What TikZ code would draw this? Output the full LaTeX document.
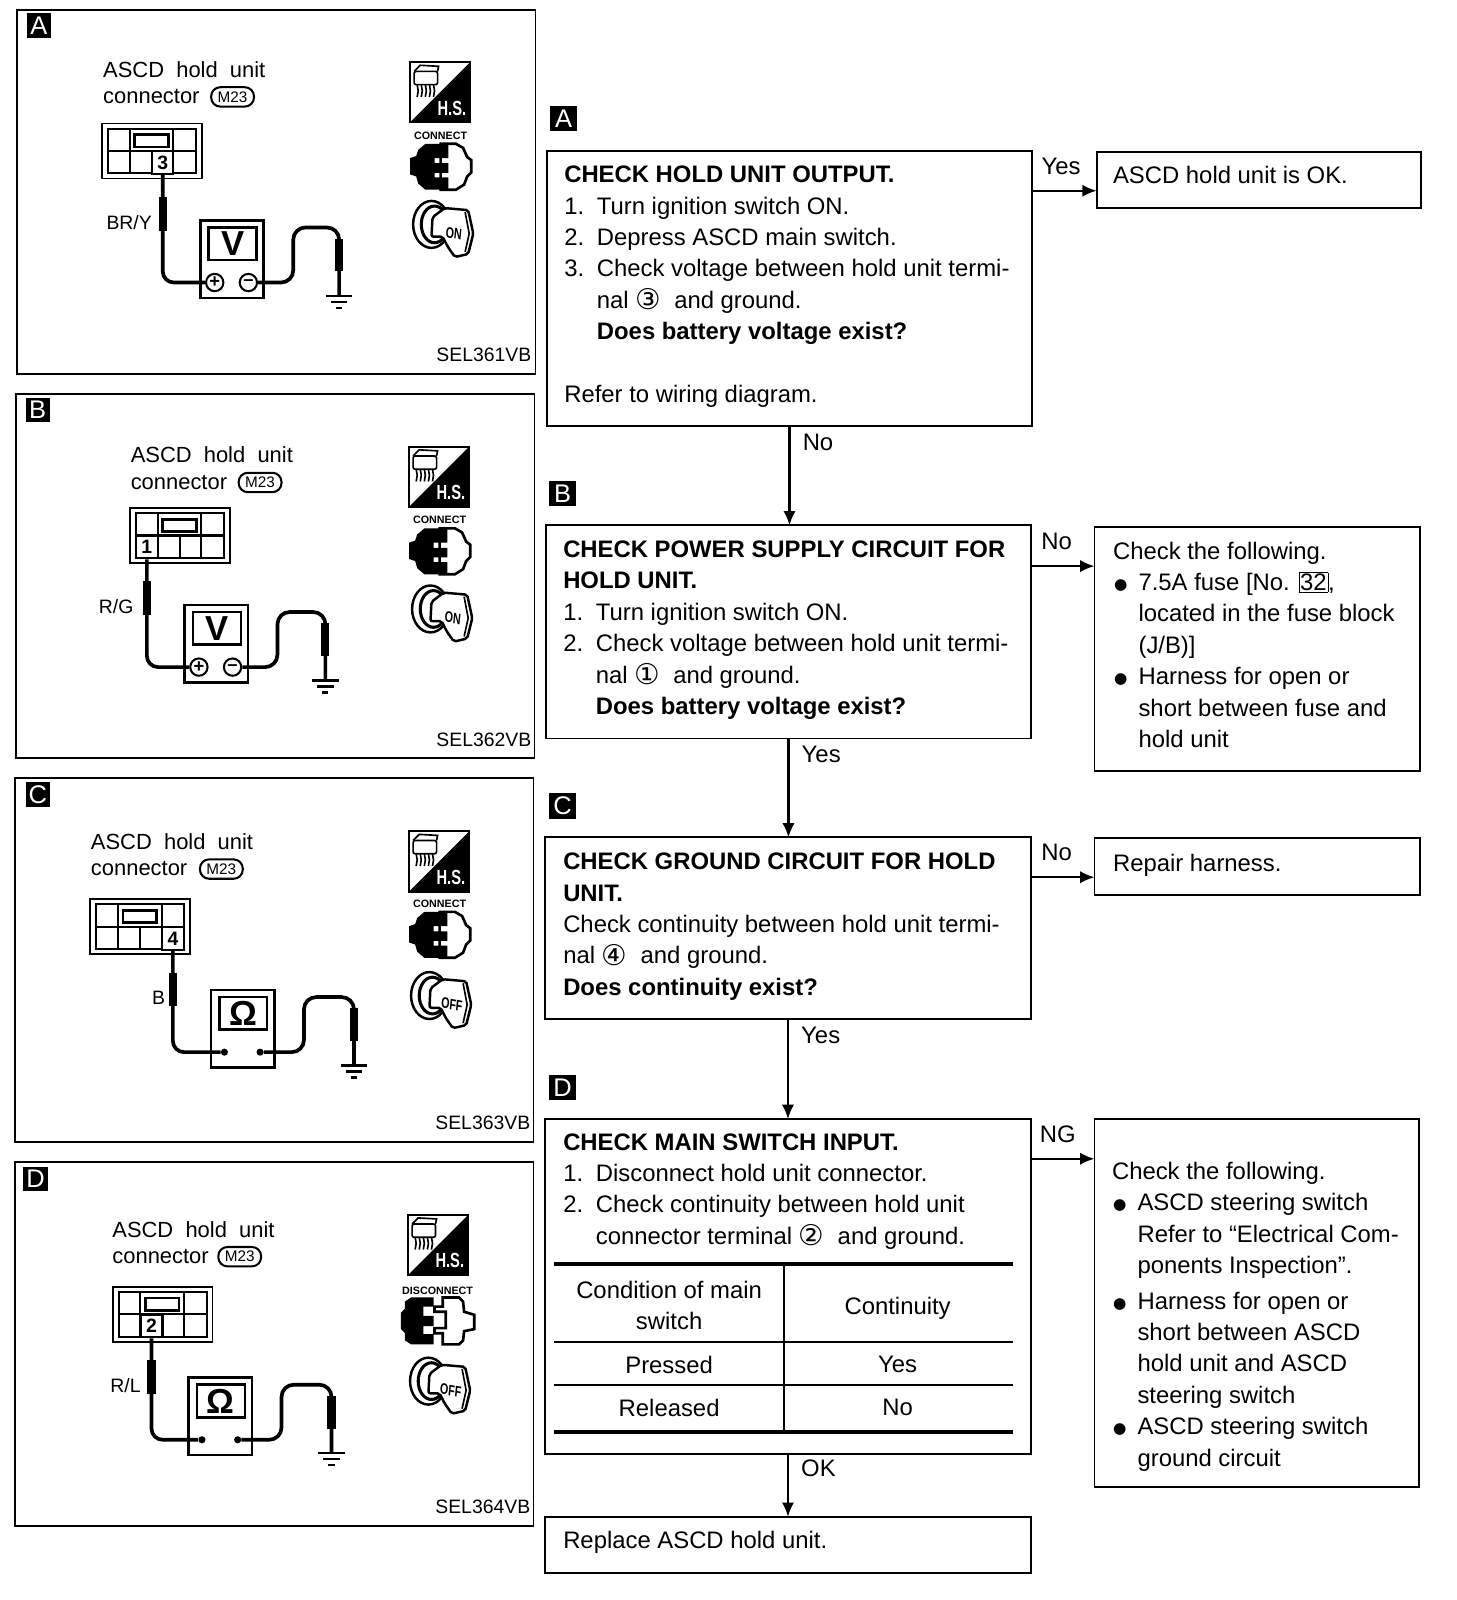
\documentclass[tikz,border=0pt]{standalone}
\usepackage{fontspec}
\setmainfont{Liberation Sans}
\newfontfamily\dejavu{DejaVu Sans}
\usetikzlibrary{arrows.meta, calc}
\tikzset{
  flowbox/.style={draw, line width=1.9pt, anchor=north west, inner sep=0pt, outer sep=0pt},
  panel/.style={flowbox, minimum width=508pt, minimum height=357pt},
  flowtext/.style={anchor=north west, inner sep=0pt, align=left, font=\fontsize{23.4}{30.8}\selectfont},
  flowlabel/.style={inner sep=0pt, font=\fontsize{23.4}{28}\selectfont},
  flow/.style={line width=2pt, -{Latex[length=14pt,width=12pt]}},
  badge/.style={fill=black, text=white, inner sep=0pt, minimum size=25pt, font=\fontsize{25}{25}\selectfont},
  unittext/.style={anchor=north west, inner sep=0pt, align=left, font=\fontsize{21.5}{26}\selectfont},
  codetext/.style={inner sep=0pt, font=\fontsize{19}{22}\selectfont},
  pill/.style={draw, line width=2pt, rounded corners=9pt, minimum width=42pt, minimum height=19pt, inner sep=0pt, font=\fontsize{15}{15}\selectfont},
  termcell/.style={draw, fill=white, line width=2pt, minimum width=21pt, minimum height=22pt, inner sep=0pt, font=\bfseries\fontsize{19}{19}\selectfont},
  wire/.style={line width=3.6pt},
  probe/.style={line width=8pt},
  thickrule/.style={line width=4pt},
  thinrule/.style={line width=2pt},
  cellpic/.style={line width=2pt},
  meterbox/.style={flowbox, line width=2.4pt},
  hsicon/.pic={
    \draw [line width=2pt] (0,0) rectangle (59,59);
    \fill (59,0)--(59,59)--(0,59)--cycle;
    \draw [line width=1.6pt, rounded corners=2pt] (4,9) rectangle (27,22);
    \draw [line width=1.6pt] (4,9)--(10,3)--(28,4)--(27,9);
    \foreach \wx in {7,11,15,19,23} \draw [line width=1.6pt] (\wx,22)--(\wx+1,28)--(\wx,34);
    \node (-txt) [text=white, inner sep=0pt, font=\bfseries\fontsize{20}{20}\selectfont, xscale=.72] at (41,45) {H.S.};
  },
  plugicon/.pic={
    \draw [line width=2.6pt, fill=white] (0,-22)--(15,-22)--(22,-18)--(26,-9)--(30,-6)--(30,6)--(26,10)--(23,18)--(15,23)--(0,23)--cycle;
    \fill (-30,-8)--(-24,-10)--(-22,-16)--(-15,-22)--(7.5,-22)--(7.5,-8)--(-6,-8)--(-6,-3)--(7.5,-3)--(7.5,6.5)--(-6,6.5)--(-6,11)--(7.5,11)--(7.5,23)--(-15,23)--(-22,17)--(-24,10)--(-30,8)--cycle;
  },
  unplugicon/.pic={
    \fill (-36,-8)--(-32,-12)--(-32,-19)--(-26,-23)--(-4,-23)--(-4,-14)--(-14,-14)--(-14,-5)--(-4,-5)--(-4,5)--(-14,5)--(-14,13)--(-4,13)--(-4,23)--(-26,23)--(-32,19)--(-32,12)--(-36,8)--cycle;
    \draw [line width=2.6pt, fill=white] (5,-23)--(21,-23)--(25,-19)--(26,-9)--(36,-6)--(36,8)--(26,10)--(25,19)--(21,23)--(5,23)--(5,12)--(-3,12)--(-3,7)--(8,7)--(8,-9)--(-3,-9)--(-3,-14)--(5,-14)--cycle;
  },
  pics/keyicon/.style={code={
    \draw [line width=2.4pt] (-11,-4) ellipse (18pt and 23pt);
    \draw [line width=3pt] (-8,-4) ellipse (13pt and 18pt);
    \draw [line width=2.4pt, fill=white, rounded corners=2pt] (-10,-11)--(2,-20)--(25,-18)--(30,5)--(25,25)--(12,28)--(5,18)--(0,8)--(-11,8)--cycle;
    \draw [line width=1.6pt] (22,-16)--(26,5)--(22,23);
    \node (-txt) [inner sep=0pt, font=\bfseries\fontsize{15}{15}\selectfont, xscale=.7, rotate=-8] at (11,5) {#1};
  }},
}
\newcommand{\numitem}[2]{\makebox[32pt][l]{#1}#2}
\newcommand{\cont}{\hspace*{32pt}}
\newcommand{\bitem}[1]{\makebox[25pt][l]{\hspace{1pt}\raisebox{1pt}{\fontsize{15}{15}\dejavu ●}}#1}
\newcommand{\bcont}{\hspace*{25pt}}
\newcommand{\cnum}[1]{{\fontsize{28}{28}\dejavu\raisebox{-1.5pt}{#1}}}
% name, connector x y, terminal, meter x y, ground offset, meter symbol
\newcommand{\probeunit}[8]{
  \begin{scope}[shift={(#2,#3)}]
    \node (conn#1) [draw, line width=1.6pt, anchor=north west, minimum width=98pt, minimum height=54pt, inner sep=0pt, outer sep=0pt] at (0,0) {};
    \draw [cellpic] (6,5) rectangle (92,49);
    \draw [cellpic] (6,27)--(92,27) (27,5)--(27,49) (70,5)--(70,49) (49,27)--(49,49);
    \draw [line width=2.6pt, fill=white] (32,11) rectangle (65,23);
    \node (term#1) [termcell] at ({16.5+21.5*(#4-1)},38.5) {#4};
  \end{scope}
  \node (meter#1) [meterbox, minimum width=62pt, minimum height=76pt] at (#5,#6) {};
  \node (disp#1) [meterbox, minimum width=47pt, minimum height=32pt, font=\bfseries\fontsize{34}{34}\selectfont] at ($(#5,#6)+(8,7)$) {#8};
  \ifx V#8
    \node (plus#1) [circle, draw, line width=2pt, minimum size=17pt, inner sep=0pt, font=\bfseries\fontsize{18}{18}\selectfont] at ($(#5,#6)+(14,61)$) {+};
    \node (minus#1) [circle, draw, line width=2pt, minimum size=17pt, inner sep=0pt, font=\bfseries\fontsize{18}{18}\selectfont] at ($(#5,#6)+(47,61)$) {--};
  \else
    \node (plus#1) [circle, fill, minimum size=7pt, inner sep=0pt] at ($(#5,#6)+(13,61)$) {};
    \node (minus#1) [circle, fill, minimum size=7pt, inner sep=0pt] at ($(#5,#6)+(48,61)$) {};
  \fi
  \coordinate (bend#1) at ($(#5,#6)+(91,7)$);
  \coordinate (gnd#1) at ($(#5,#6)+(#7,74)$);
  \draw [wire, rounded corners=11pt] (term#1.south) |- (plus#1.west);
  \draw [wire, rounded corners=12pt] (minus#1.east) -| (bend#1) -| (gnd#1);
  \draw [probe] (term#1.south |- 0,#3+72) -- (term#1.south |- 0,#3+105);
  \draw [probe] ($(gnd#1)+(0,-56)$) -- ($(gnd#1)+(0,-24)$);
  \draw [line width=2.4pt] ($(gnd#1)+(-13,0)$) -- ++(26,0);
  \draw [line width=2.4pt] ($(gnd#1)+(-8,6)$) -- ++(16,0);
  \draw [line width=2.4pt] ($(gnd#1)+(-3,12)$) -- ++(6,0);
}
\begin{document}
\begin{tikzpicture}[x=1pt, y=-1pt]
  \useasboundingbox (0,0) rectangle (1427.5,1568.6);

  \node (panelA) [panel] at (17,10) {};
  \node (panelB) [panel] at (16,386.5) {};
  \node (panelC) [panel] at (15,763) {};
  \node (panelD) [panel] at (15,1139) {};
  \node (tagA) [badge, minimum size=24pt] at (38,25) {A};
  \node (tagB) [badge, minimum size=24pt] at (37,402) {B};
  \node (tagC) [badge, minimum size=24pt] at (37,779) {C};
  \node (tagD) [badge, minimum size=24pt] at (35,1156) {D};

  \node (unitA) [unittext] at (101,60) {ASCD\ \ hold\ \ unit\\connector};
  \node (plugA) [pill] at (228,95) {M23};
  \node (unitB) [unittext] at (128,438) {ASCD\ \ hold\ \ unit\\connector};
  \node (plugB) [pill] at (255,473) {M23};
  \node (unitC) [unittext] at (89,817) {ASCD\ \ hold\ \ unit\\connector};
  \node (plugC) [pill] at (217,852) {M23};
  \node (unitD) [unittext] at (110,1197) {ASCD\ \ hold\ \ unit\\connector};
  \node (plugD) [pill] at (235,1232) {M23};

  \probeunit{A}{100}{121}{3}{196.5}{216}{136}{V}
  \probeunit{B}{127.5}{498}{1}{181}{593}{138}{V}
  \probeunit{C}{88.5}{881.5}{4}{207}{970.5}{140}{Ω}
  \probeunit{D}{110.5}{1261.5}{2}{185}{1350.5}{140}{Ω}

  \node (wireA) [codetext, anchor=east] at (149,218) {BR/Y};
  \node (wireB) [codetext, anchor=east] at (131,595) {R/G};
  \node (wireC) [codetext, anchor=east] at (162,978) {B};
  \node (wireD) [codetext, anchor=east] at (138,1358) {R/L};
  \node (codeA) [codetext, anchor=east] at (521,348) {SEL361VB};
  \node (codeB) [codetext, anchor=east] at (521,725) {SEL362VB};
  \node (codeC) [codetext, anchor=east] at (520,1101) {SEL363VB};
  \node (codeD) [codetext, anchor=east] at (520,1477) {SEL364VB};

  \pic (hsA) at (402,61) {hsicon};
  \pic (hsB) at (401,438) {hsicon};
  \pic (hsC) at (401,815) {hsicon};
  \pic (hsD) at (400,1191) {hsicon};
  \node (conA) [inner sep=0pt, font=\bfseries\fontsize{10.5}{10.5}\selectfont] at (432,133) {CONNECT};
  \node (conB) [inner sep=0pt, font=\bfseries\fontsize{10.5}{10.5}\selectfont] at (431,510) {CONNECT};
  \node (conC) [inner sep=0pt, font=\bfseries\fontsize{10.5}{10.5}\selectfont] at (431,886) {CONNECT};
  \node (conD) [inner sep=0pt, font=\bfseries\fontsize{10.5}{10.5}\selectfont] at (429,1265) {DISCONNECT};
  \pic at (432,163) {plugicon};
  \pic at (431,540) {plugicon};
  \pic at (431,916) {plugicon};
  \pic at (429,1295) {unplugicon};
  \pic (keyA) at (434,224) {keyicon={ON}};
  \pic (keyB) at (433,601) {keyicon={ON}};
  \pic (keyC) at (432,980) {keyicon={OFF}};
  \pic (keyD) at (431,1358) {keyicon={OFF}};

  \node (stepA) [flowbox, minimum width=476pt, minimum height=270pt] at (536,148) {};
  \node (stepB) [flowbox, minimum width=476pt, minimum height=209pt] at (535,515) {};
  \node (stepC) [flowbox, minimum width=477pt, minimum height=178pt] at (534,821) {};
  \node (stepD) [flowbox, minimum width=477pt, minimum height=328pt] at (534,1097) {};
  \node (okA) [flowbox, minimum width=318pt, minimum height=55pt] at (1075,149) {};
  \node (ngB) [flowbox, minimum width=319pt, minimum height=239pt] at (1073,517) {};
  \node (ngC) [flowbox, minimum width=319pt, minimum height=55pt] at (1073,822) {};
  \node (ngD) [flowbox, minimum width=318pt, minimum height=361pt] at (1073,1097) {};
  \node (replace) [flowbox, minimum width=477pt, minimum height=55pt] at (534,1487) {};

  \node (markA) [badge, minimum width=27pt] at (552.5,116) {A};
  \node (markB) [badge, minimum width=27pt] at (551.5,484) {B};
  \node (markC) [badge, minimum width=27pt] at (551.5,790) {C};
  \node (markD) [badge, minimum width=27pt] at (551.5,1066) {D};

  \node (stepAtext) [flowtext] at (553,162.5) {\textbf{CHECK HOLD UNIT OUTPUT.}\\
    \numitem{1.}{Turn ignition switch ON.}\\
    \numitem{2.}{Depress ASCD main switch.}\\
    \numitem{3.}{Check voltage between hold unit termi-}\\
    \cont nal \cnum{③}\ \ and ground.\\
    \cont\textbf{Does battery voltage exist?}\\[30.8pt]
    Refer to wiring diagram.};
  \node (stepBtext) [flowtext] at (552,530) {\textbf{CHECK POWER SUPPLY CIRCUIT FOR}\\
    \textbf{HOLD UNIT.}\\
    \numitem{1.}{Turn ignition switch ON.}\\
    \numitem{2.}{Check voltage between hold unit termi-}\\
    \cont nal \cnum{①}\ \ and ground.\\
    \cont\textbf{Does battery voltage exist?}};
  \node (stepCtext) [flowtext] at (552,836) {\textbf{CHECK GROUND CIRCUIT FOR HOLD}\\
    \textbf{UNIT.}\\
    Check continuity between hold unit termi-\\
    nal \cnum{④}\ \ and ground.\\
    \textbf{Does continuity exist?}};
  \node (stepDtext) [flowtext] at (552,1111) {\textbf{CHECK MAIN SWITCH INPUT.}\\
    \numitem{1.}{Disconnect hold unit connector.}\\
    \numitem{2.}{Check continuity between hold unit}\\
    \cont connector terminal \cnum{②}\ \ and ground.};
  \node (okAtext) [flowtext] at (1091,163) {ASCD hold unit is OK.};
  \node (ngBtext) [flowtext] at (1091,531) {Check the following.\\
    \bitem{7.5A fuse [No. {\fboxsep=1pt\fbox{32}},}\\
    \bcont located in the fuse block\\
    \bcont (J/B)]\\
    \bitem{Harness for open or}\\
    \bcont short between fuse and\\
    \bcont hold unit};
  \node (ngCtext) [flowtext] at (1091,837) {Repair harness.};
  \node (ngDtext) [flowtext] at (1090,1139) {Check the following.\\
    \bitem{ASCD steering switch}\\
    \bcont Refer to “Electrical Com-\\
    \bcont ponents Inspection”.\\[4pt]
    \bitem{Harness for open or}\\
    \bcont short between ASCD\\
    \bcont hold unit and ASCD\\
    \bcont steering switch\\
    \bitem{ASCD steering switch}\\
    \bcont ground circuit};
  \node (replacetext) [flowtext] at (552,1501) {Replace ASCD hold unit.};

  \draw [thickrule] (543,1239) -- (993,1239);
  \draw [thinrule] (543,1316) -- (993,1316);
  \draw [thinrule] (543,1358) -- (993,1358);
  \draw [thickrule] (543,1404) -- (993,1404);
  \draw [thinrule] (769,1239) -- (769,1404);
  \node (headCond) [flowtext, anchor=center, align=center] at (656,1280) {Condition of main\\switch};
  \node (headCont) [flowlabel] at (880,1283) {Continuity};
  \node (rowPress) [flowlabel] at (656,1338) {Pressed};
  \node (rowPressYes) [flowlabel] at (880,1338) {Yes};
  \node (rowRel) [flowlabel] at (656,1380) {Released};
  \node (rowRelNo) [flowlabel] at (880,1380) {No};

  \coordinate (exitA) at (0,187);
  \coordinate (exitB) at (0,555);
  \coordinate (exitC) at (0,860);
  \coordinate (exitD) at (0,1136);
  \draw [flow] (stepA.east |- exitA) -- (okA.west |- exitA) node [flowlabel, pos=.45, above=15pt] (yesA) {Yes};
  \draw [flow] (stepB.east |- exitB) -- (ngB.west |- exitB) node [flowlabel, pos=.4, above=15pt] (noB) {No};
  \draw [flow] (stepC.east |- exitC) -- (ngC.west |- exitC) node [flowlabel, pos=.4, above=15pt] (noC) {No};
  \draw [flow] (stepD.east |- exitD) -- (ngD.west |- exitD) node [flowlabel, pos=.42, above=15pt] (markNG) {NG};
  \draw [flow] (stepA.south) -- (stepA.south |- stepB.north) node [flowlabel, pos=.16, right=12pt] (noA) {No};
  \draw [flow] (stepB.south) -- (stepB.south |- stepC.north) node [flowlabel, pos=.16, right=12pt] (yesB) {Yes};
  \draw [flow] (stepC.south) -- (stepC.south |- stepD.north) node [flowlabel, pos=.16, right=12pt] (yesC) {Yes};
  \draw [flow] (stepD.south) -- (stepD.south |- replace.north) node [flowlabel, pos=.24, right=12pt] (okD) {OK};
\end{tikzpicture}
\end{document}
